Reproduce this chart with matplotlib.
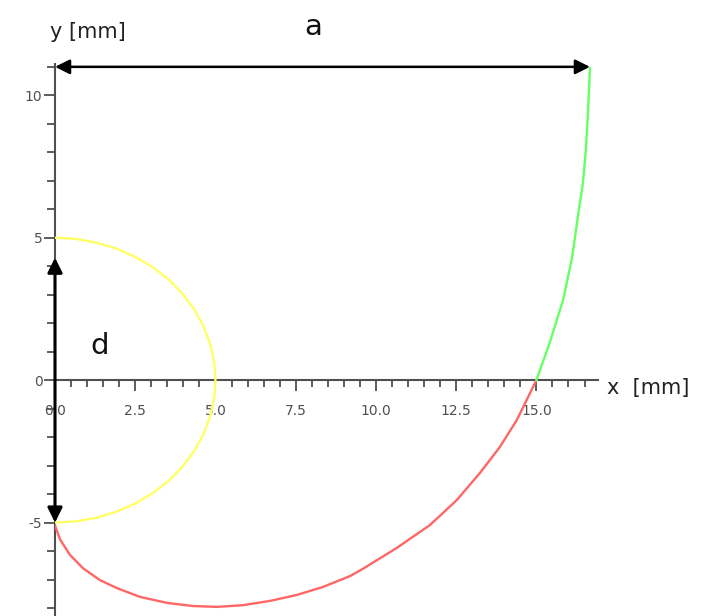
import matplotlib
matplotlib.use('Agg')
import matplotlib.pyplot as plt
from matplotlib.ticker import MultipleLocator

plt.rcParams['axes.unicode_minus'] = False

# semicircle, diameter d = 10 mm
circle_x = [0.0, 0.65, 1.29, 1.91, 2.5, 3.04, 3.54, 3.97, 4.33, 4.62, 4.83, 4.96, 5.0,
            4.96, 4.83, 4.62, 4.33, 3.97, 3.54, 3.04, 2.5, 1.91, 1.29, 0.65, 0.0]
circle_y = [5.0, 4.96, 4.83, 4.62, 4.33, 3.97, 3.54, 3.04, 2.5, 1.91, 1.29, 0.65, 0.0,
            -0.65, -1.29, -1.91, -2.5, -3.04, -3.54, -3.97, -4.33, -4.62, -4.83, -4.96, -5.0]

# lower part of the curve (red)
red_x = [0.0, 0.16, 0.47, 0.87, 1.4, 1.93, 2.65, 3.49, 4.3, 5.05, 5.86, 6.7, 7.54,
         8.35, 9.19, 9.6, 10.65, 11.68, 12.52, 13.24, 13.86, 14.39, 14.8, 15.0]
red_y = [-5.1, -5.6, -6.14, -6.6, -7.02, -7.3, -7.61, -7.82, -7.93, -7.96, -7.9, -7.75, -7.54,
         -7.26, -6.88, -6.62, -5.89, -5.09, -4.21, -3.26, -2.35, -1.4, -0.46, 0.0]

# upper part of the curve (green)
green_x = [15.0, 15.42, 15.83, 16.11, 16.29, 16.45, 16.54, 16.6, 16.64, 16.67]
green_y = [0.0, 1.33, 2.81, 4.28, 5.72, 6.91, 8.07, 9.23, 10.18, 10.95]

x_ticks = [0.0, 2.5, 5.0, 7.5, 10.0, 12.5, 15.0]
y_ticks = [-5, 0, 5, 10]

fig = plt.figure(figsize=(7.21, 6.16), dpi=100)
ax = fig.add_axes([55 / 721, 0.0, 543 / 721, 1 - 64 / 616])
ax.set_xlim(0, 16.92)
ax.set_ylim(-8.28, 11.1)

ax.plot(circle_x, circle_y, color='#ffff66', lw=1.7, zorder=3, solid_joinstyle='round')
ax.plot(red_x, red_y, color='#ff6666', lw=1.7, zorder=3, solid_joinstyle='round')
ax.plot(green_x, green_y, color='#66ff66', lw=1.7, zorder=3, solid_joinstyle='round')

# spines through the origin
for s in ['top', 'right']:
    ax.spines[s].set_visible(False)
ax.spines['left'].set_position(('data', 0))
ax.spines['bottom'].set_position(('data', 0))
for s in ['left', 'bottom']:
    ax.spines[s].set_color('#505050')
    ax.spines[s].set_linewidth(1.5)

ax.set_xticks(x_ticks)
ax.set_xticklabels([f'{v:.1f}' for v in x_ticks])
ax.set_yticks(y_ticks)
ax.xaxis.set_minor_locator(MultipleLocator(0.5))
ax.yaxis.set_minor_locator(MultipleLocator(1))
ax.tick_params(axis='x', which='major', direction='out', length=8, width=1.3,
               color='#505050', labelcolor='#505050', labelsize=10, pad=9)
ax.tick_params(axis='x', which='minor', direction='out', length=5, width=1.3, color='#505050')
ax.tick_params(axis='y', which='major', direction='out', length=8, width=1.3,
               color='#505050', labelcolor='#505050', labelsize=10, pad=1)
ax.tick_params(axis='y', which='minor', direction='out', length=6, width=1.3, color='#505050')

# dimension arrows
ax.annotate('', xy=(16.67, 11.0), xytext=(0.0, 11.0),
            arrowprops=dict(arrowstyle='<|-|>', color='black', lw=1.8,
                            mutation_scale=22, shrinkA=0, shrinkB=0),
            annotation_clip=False, zorder=5)
ax.annotate('', xy=(0.0, 4.3), xytext=(0.0, -5.0),
            arrowprops=dict(arrowstyle='<|-|>', color='black', lw=2.2,
                            mutation_scale=22, shrinkA=0, shrinkB=0),
            annotation_clip=False, zorder=5)

fig.text(313 / 721, 1 - 27 / 616, 'a', fontsize=21, ha='center', va='center', color='#111111')
ax.text(1.4, 1.2, 'd', fontsize=21, ha='center', va='center', color='#111111')
fig.text(50 / 721, 1 - 32 / 616, 'y [mm]', fontsize=15, ha='left', va='center', color='#222222')
fig.text(607 / 721, 1 - 388 / 616, 'x  [mm]', fontsize=15, ha='left', va='center', color='#222222')

fig.savefig('out.png', dpi=100)
